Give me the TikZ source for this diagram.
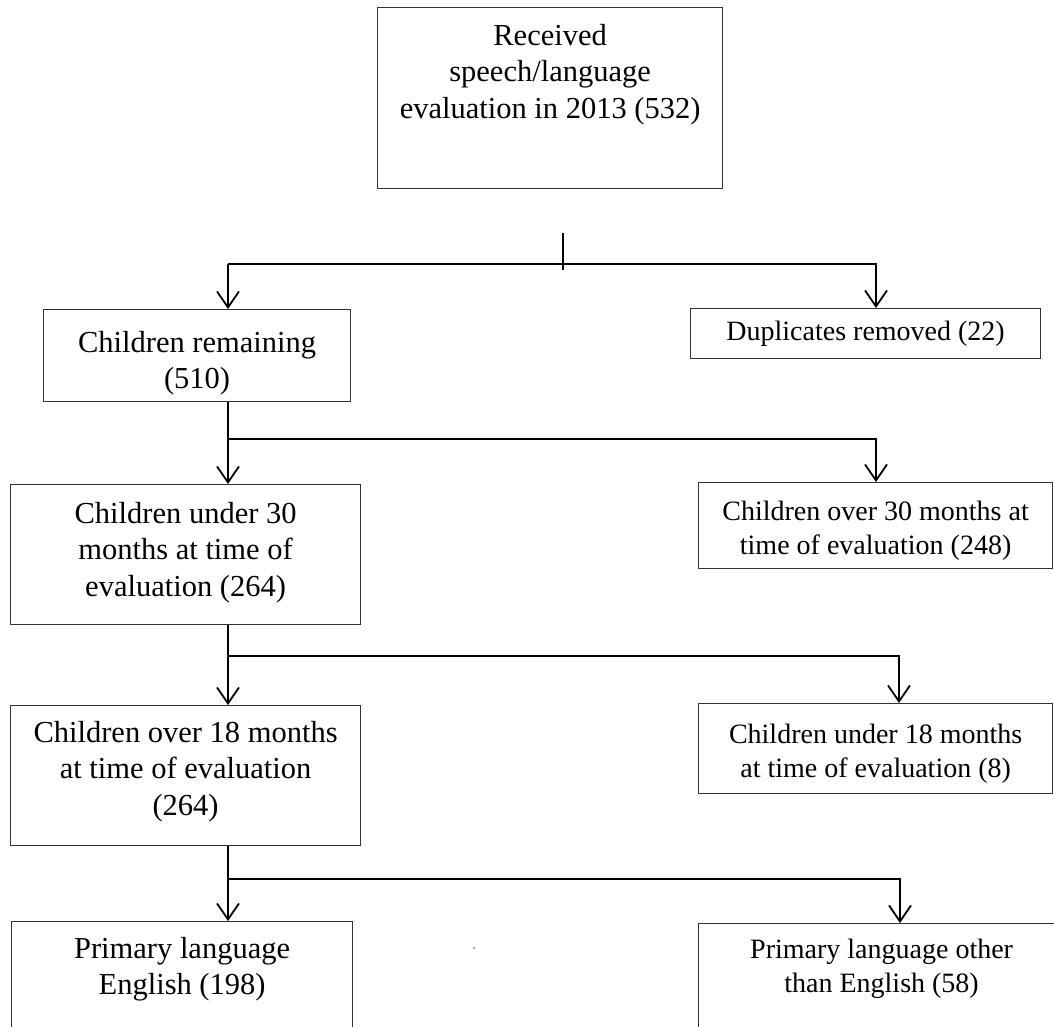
\documentclass[tikz,border=0pt]{standalone}
\usepackage{fontspec}
\setmainfont{Liberation Serif}
\usetikzlibrary{arrows.meta}

\begin{document}
\begin{tikzpicture}[x=1pt, y=-1pt,
    box/.style={draw=black!80, line width=1.2pt, inner sep=0pt, anchor=north west},
    txt/.style={anchor=north, align=center, inner sep=0pt},
    big/.style={txt, font=\fontsize{30.5}{36.5}\selectfont},
    mid/.style={txt, font=\fontsize{28}{34}\selectfont},
    conn/.style={line width=1.8pt},
    arr/.style={conn, -{Straight Barb[length=16pt, width=22pt]}}]
      \clip (0,0) rectangle (1054,1026);
      \node [box, minimum width=345pt, minimum height=181pt, label={[big, yshift=-17pt]north:{Received\\speech/language\\evaluation in 2013 (532)}}] (rec) at (377,7) {};
      \node [box, minimum width=307pt, minimum height=92pt, label={[big, yshift=-22pt]north:{Children remaining\\(510)}}] (rem) at (43,309) {};
      \node [box, minimum width=350pt, minimum height=50pt, label={[mid, yshift=-12.7pt]north:{Duplicates removed (22)}}] (dup) at (690,308) {};
      \node [box, minimum width=350pt, minimum height=140pt, label={[big, yshift=-18pt]north:{Children under 30\\months at time of\\evaluation (264)}}] (u30) at (10,484) {};
      \node [box, minimum width=354pt, minimum height=86pt, label={[mid, yshift=-18.7pt]north:{Children over 30 months at\\time of evaluation (248)}}] (o30) at (698,482) {};
      \node [box, minimum width=350pt, minimum height=140pt, label={[big, yshift=-16pt]north:{Children over 18 months\\at time of evaluation\\(264)}}] (o18) at (10,705) {};
      \node [box, minimum width=354pt, minimum height=90pt, label={[mid, yshift=-20.7pt]north:{Children under 18 months\\at time of evaluation (8)}}] (u18) at (698,703) {};
      \node [box, minimum width=341pt, minimum height=200pt, label={[big, yshift=-16pt]north:{Primary language\\English (198)}}] (eng) at (11,921) {};
      \node [box, minimum width=366pt, minimum height=200pt, label={[mid, yshift=-15.7pt]north:{Primary language other\\than English (58)}}] (oth) at (698,923) {};
      \coordinate (s0) at (563,233);
      \coordinate (lx1) at (228,264);
      \coordinate (rx1) at (876,264);
      \coordinate (lx2) at (228,439);
      \coordinate (rx2) at (876,439);
      \coordinate (lx3) at (228,656);
      \coordinate (rx3) at (899,656);
      \coordinate (lx4) at (228,879);
      \coordinate (rx4) at (900,879);
      \draw [conn] (s0) -- ++(0,37);
      \draw [arr] (lx1) -- (lx1 |- rem.north);
      \draw [arr] (lx1) -| (rx1 |- dup.north);
      \draw [conn] (lx2 |- rem.south) -- (lx2);
      \draw [arr] (lx2) -- (lx2 |- u30.north);
      \draw [arr] (lx2) -| (rx2 |- o30.north);
      \draw [conn] (lx3 |- u30.south) -- (lx3);
      \draw [arr] (lx3) -- (lx3 |- o18.north);
      \draw [arr] (lx3) -| (rx3 |- u18.north);
      \draw [conn] (lx4 |- o18.south) -- (lx4);
      \draw [arr] (lx4) -- (lx4 |- eng.north);
      \draw [arr] (lx4) -| (rx4 |- oth.north);
      \fill [blue!60] (474,948) circle (1pt);
    \end{tikzpicture}
\end{document}
